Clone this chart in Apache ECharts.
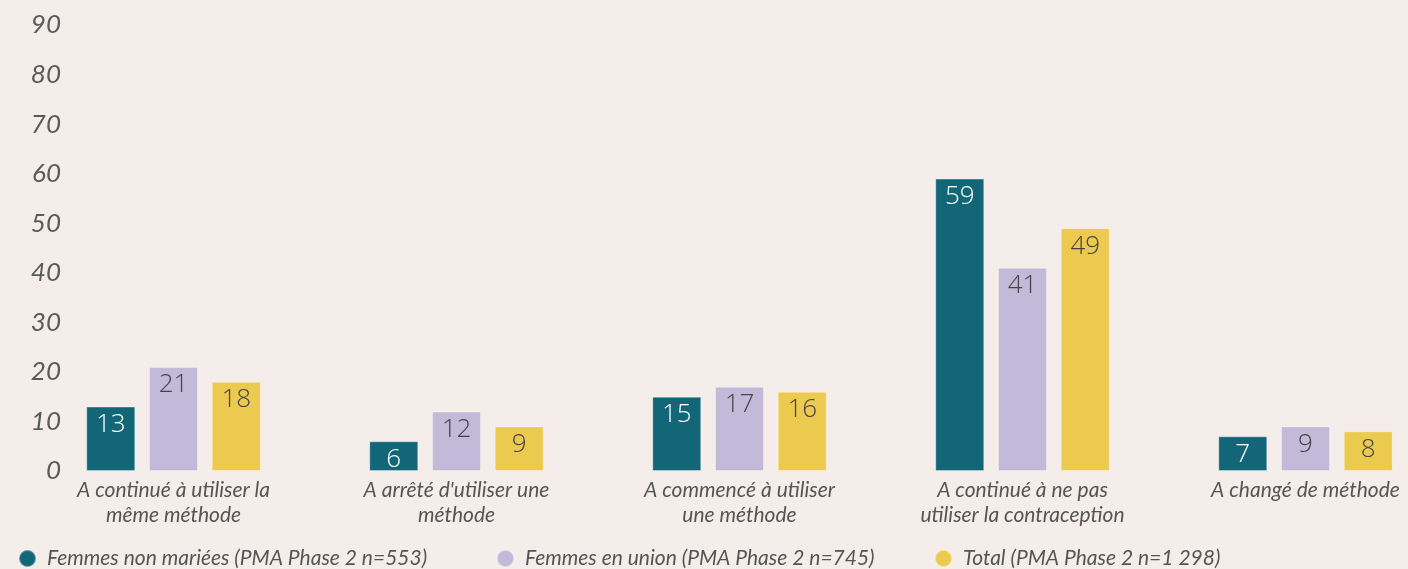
<!DOCTYPE html>
<html>
<head>
<meta charset="utf-8">
<script src="https://cdn.jsdelivr.net/npm/echarts@6/dist/echarts.min.js"></script>
<style>
  html, body { margin: 0; padding: 0; background: #F5EDEA; overflow: hidden; }
  /* the source chart is cut off on the right, so the canvas is wider than the window */
  #chart { width: 1447px; height: 569px; }
</style>
</head>
<body>
<div id="chart"></div>
<script>
const categories = [
  "A continué à utiliser la\nmême méthode",
  "A arrêté d'utiliser une\nméthode",
  "A commencé à utiliser\nune méthode",
  "A continué à ne pas\nutiliser la contraception",
  "A changé de méthode"
];
const seriesNames = [
  "Femmes non mariées (PMA Phase 2 n=553)",
  "Femmes en union (PMA Phase 2 n=745)",
  "Total (PMA Phase 2 n=1 298)"
];
const nonMariees = [13, 6, 15, 59, 7];
const enUnion = [21, 12, 17, 41, 9];
const total = [18, 9, 16, 49, 8];

const colors = ["#136678", "#C3B9D8", "#ECC94F"];
const labelColors = ["#ffffff", "#444444", "#444444"];
const values = [nonMariees, enUnion, total];
const legendLeft = [13, 491, 929];

const chart = echarts.init(document.getElementById("chart"));

const series = values.map((v, i) => ({
  name: seriesNames[i],
  type: "bar",
  data: v,
  barWidth: 49,
  barGap: "28%",
  itemStyle: {
    color: colors[i],
    borderColor: "rgba(255,255,255,0.35)",
    borderWidth: 1
  },
  label: {
    show: true,
    position: "insideTop",
    distance: 5,
    color: labelColors[i],
    fontFamily: "Open Sans",
    fontWeight: 300,
    fontSize: 26
  }
}));

const legends = seriesNames.map((name, i) => ({
  data: [name],
  bottom: -5,
  left: legendLeft[i],
  icon: "circle",
  itemWidth: 17,
  itemHeight: 17,
  textStyle: {
    fontFamily: "Lato",
    fontStyle: "italic",
    fontSize: 21,
    color: "#555555",
    padding: [0, 0, 0, 6]
  }
}));

chart.setOption({
  backgroundColor: "#F5EDEA",
  color: colors,
  grid: {
    left: 32,
    right: 0,
    top: 25,
    bottom: 98,
    containLabel: false
  },
  legend: legends,
  xAxis: {
    type: "category",
    data: categories,
    axisLine: { show: false },
    axisTick: { show: false },
    axisLabel: {
      interval: 0,
      margin: 7,
      fontFamily: "Lato",
      fontStyle: "italic",
      fontSize: 21,
      lineHeight: 25,
      color: "#555555"
    }
  },
  yAxis: {
    type: "value",
    min: 0,
    max: 90,
    interval: 10,
    splitLine: { show: false },
    axisLine: { show: false },
    axisTick: { show: false },
    axisLabel: {
      margin: -29,
      fontFamily: "Lato",
      fontStyle: "italic",
      fontSize: 26,
      color: "#5a5a5a",
      verticalAlign: "middle",
      padding: [0, 0, 2, 0]
    }
  },
  series: series
});
</script>
</body>
</html>
